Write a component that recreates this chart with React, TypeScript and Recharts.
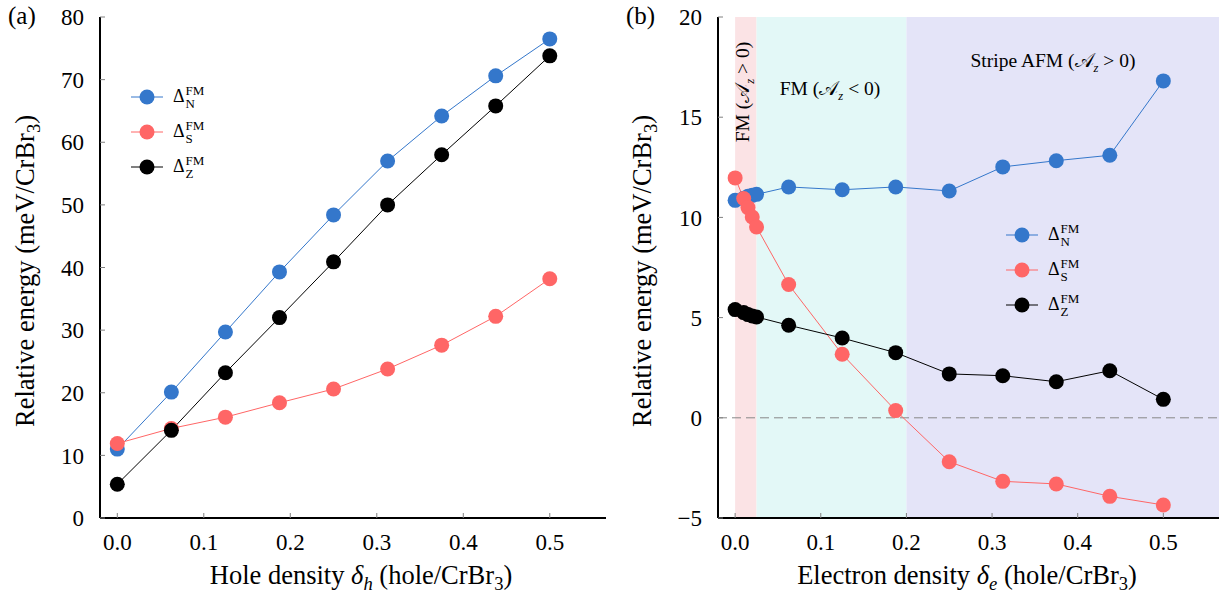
import React from 'react';
import { LineChart, Line, XAxis, YAxis, Legend, ReferenceArea, ReferenceLine } from 'recharts';

// panel (a): hole doping
const holeX = [0, 0.0625, 0.125, 0.1875, 0.25, 0.3125, 0.375, 0.4375, 0.5];
const holeN = [11.0, 20.1, 29.7, 39.3, 48.4, 57.0, 64.2, 70.6, 76.5];
const holeS = [11.9, 14.3, 16.1, 18.4, 20.6, 23.8, 27.6, 32.2, 38.2];
const holeZ = [5.4, 14.0, 23.2, 32.0, 40.9, 50.0, 58.0, 65.8, 73.8];

// panel (b): electron doping
const elecX = [0, 0.01, 0.015, 0.02, 0.025, 0.0625, 0.125, 0.1875, 0.25, 0.3125, 0.375, 0.4375, 0.5];
const elecN = [10.85, 10.95, 11.05, 11.1, 11.15, 11.52, 11.38, 11.52, 11.32, 12.52, 12.83, 13.1, 16.81];
const elecS = [11.97, 10.94, 10.49, 10.02, 9.52, 6.65, 3.17, 0.36, -2.19, -3.17, -3.3, -3.92, -4.35];
const elecZ = [5.4, 5.25, 5.15, 5.08, 5.03, 4.62, 3.98, 3.25, 2.19, 2.1, 1.8, 2.35, 0.92];

const xTicks = [0, 0.1, 0.2, 0.3, 0.4, 0.5];
const holeYTicks = [0, 10, 20, 30, 40, 50, 60, 70, 80];
const elecYTicks = [-5, 0, 5, 10, 15, 20];

// phase regions in panel (b)
const regions = [
  { from: 0, to: 0.025, color: '#fbe3e5' },
  { from: 0.025, to: 0.2, color: '#e3f8f7' },
  { from: 0.2, to: 0.565, color: '#e4e4f8' },
];

const BLUE = '#3477cb';
const RED = '#ff6666';
const BLACK = '#000000';
const FONT = '"Liberation Serif", "DejaVu Serif", serif';
const X_DOMAIN: [number, number] = [-0.02, 0.565];

const holeRows = holeX.map((x, i) => ({ x, N: holeN[i], S: holeS[i], Z: holeZ[i] }));
const elecRows = elecX.map((x, i) => ({ x, N: elecN[i], S: elecS[i], Z: elecZ[i] }));

const tickStyle = { fontFamily: FONT, fontSize: 23, fill: '#000' };
const tickLineStyle = { stroke: '#808080' };
const frame = { stroke: '#000', strokeWidth: 2 };

const LegendBox = ({ payload }: any) => (
  <div style={{ display: 'flex', flexDirection: 'column', fontFamily: FONT }}>
    {(payload || []).map((p: any) => (
      <div key={p.value} style={{ height: 35, display: 'flex', alignItems: 'center' }}>
        <svg width={32} height={20}>
          <line x1={0} y1={10} x2={32} y2={10} stroke={p.color} strokeWidth={1} />
          <circle cx={16} cy={10} r={7.5} fill={p.color} />
        </svg>
        <span style={{ marginLeft: 10, fontSize: 18, display: 'inline-flex', alignItems: 'center' }}>
          Δ
          <span style={{ display: 'inline-flex', flexDirection: 'column', fontSize: 13, lineHeight: '13px', marginLeft: 1 }}>
            <span>FM</span>
            <span>{p.value}</span>
          </span>
        </span>
      </div>
    ))}
  </div>
);

const fmtX = (v: number) => v.toFixed(1);
const fmtY = (v: number) => (v < 0 ? `\u2212${Math.abs(v)}` : `${v}`);

const Panel = ({ rows, yTicks, yDomain, yWidth, margin, legendPos, children }: any) => (
  <LineChart width={612} height={600} data={rows} margin={margin}>
    {children}
    <XAxis
      dataKey="x"
      type="number"
      domain={X_DOMAIN}
      ticks={xTicks}
      allowDataOverflow
      tickFormatter={fmtX}
      tick={tickStyle}
      tickSize={-5}
      tickMargin={21}
      tickLine={tickLineStyle}
      axisLine={frame}
      height={82}
    />
    <XAxis
      xAxisId="top"
      orientation="top"
      dataKey="x"
      type="number"
      domain={X_DOMAIN}
      ticks={xTicks}
      allowDataOverflow
      tick={false}
      tickSize={-5}
      tickLine={tickLineStyle}
      axisLine={frame}
      height={0}
    />
    <YAxis
      type="number"
      domain={yDomain}
      ticks={yTicks}
      allowDataOverflow
      tickFormatter={fmtY}
      tick={tickStyle}
      tickSize={-5}
      tickMargin={21}
      tickLine={tickLineStyle}
      axisLine={frame}
      width={yWidth}
    />
    <YAxis
      yAxisId="right"
      orientation="right"
      type="number"
      domain={yDomain}
      ticks={yTicks}
      allowDataOverflow
      tick={false}
      tickSize={-5}
      tickLine={tickLineStyle}
      axisLine={frame}
      width={0}
    />
    <Line dataKey="N" name="N" stroke={BLUE} strokeWidth={1} dot={{ r: 7.5, fill: BLUE, stroke: 'none' }} activeDot={false} isAnimationActive={false} />
    <Line dataKey="S" name="S" stroke={RED} strokeWidth={1} dot={{ r: 7.5, fill: RED, stroke: 'none' }} activeDot={false} isAnimationActive={false} />
    <Line dataKey="Z" name="Z" stroke={BLACK} strokeWidth={1} dot={{ r: 7.5, fill: BLACK, stroke: 'none' }} activeDot={false} isAnimationActive={false} />
    <Legend
      layout="vertical"
      align="center"
      verticalAlign="middle"
      content={<LegendBox />}
      wrapperStyle={{ left: legendPos.left, top: legendPos.top, width: 'auto', height: 'auto' }}
    />
  </LineChart>
);

const abs = (style: React.CSSProperties): React.CSSProperties => ({
  position: 'absolute',
  fontFamily: FONT,
  color: '#000',
  whiteSpace: 'nowrap',
  lineHeight: 1,
  ...style,
});

const Az = () => (
  <span>
    𝒜<sub style={{ fontSize: '0.65em', fontStyle: 'italic' }}>z</sub>
  </span>
);

const sub = { fontSize: '0.7em' };

export default function App() {
  return (
    <div style={{ position: 'relative', width: 1224, height: 600, background: '#fff' }}>
      <style>{'body{margin:0}'}</style>
      <div style={{ position: 'absolute', left: 0, top: 0 }}>
        <Panel
          rows={holeRows}
          yTicks={holeYTicks}
          yDomain={[0, 80]}
          yWidth={100}
          margin={{ top: 17, right: 6, bottom: 0, left: 0 }}
          legendPos={{ left: 131, top: 79 }}
        />
      </div>
      <div style={{ position: 'absolute', left: 612, top: 0 }}>
        <Panel
          rows={elecRows}
          yTicks={elecYTicks}
          yDomain={[-5, 20]}
          yWidth={106}
          margin={{ top: 17, right: 5, bottom: 0, left: 0 }}
          legendPos={{ left: 394, top: 217 }}
        >
          {regions.map((r) => (
            <ReferenceArea key={r.from} x1={r.from} x2={r.to} y1={-5} y2={20} fill={r.color} fillOpacity={1} stroke="none" ifOverflow="hidden" />
          ))}
          <ReferenceLine y={0} stroke="#888" strokeDasharray="9 5" strokeWidth={1} />
        </Panel>
      </div>

      {/* panel labels */}
      <div style={abs({ left: 8, top: 3, fontSize: 25 })}>(a)</div>
      <div style={abs({ left: 626, top: 3, fontSize: 25 })}>(b)</div>

      {/* axis titles */}
      <div style={abs({ left: 28, top: 271, fontSize: 26.5, transform: 'translate(-50%, -50%) rotate(-90deg)' })}>
        Relative energy (meV/CrBr<sub style={sub}>3</sub>)
      </div>
      <div style={abs({ left: 645, top: 271, fontSize: 26.5, transform: 'translate(-50%, -50%) rotate(-90deg)' })}>
        Relative energy (meV/CrBr<sub style={sub}>3</sub>)
      </div>
      <div style={abs({ left: 361, top: 578, fontSize: 26.5, transform: 'translate(-50%, -50%)' })}>
        Hole density <i>δ</i><sub style={{ ...sub, fontStyle: 'italic' }}>h</sub> (hole/CrBr<sub style={sub}>3</sub>)
      </div>
      <div style={abs({ left: 967, top: 578, fontSize: 26.5, transform: 'translate(-50%, -50%)' })}>
        Electron density <i>δ</i><sub style={{ ...sub, fontStyle: 'italic' }}>e</sub> (hole/CrBr<sub style={sub}>3</sub>)
      </div>

      {/* phase annotations */}
      <div style={abs({ left: 1053, top: 63, fontSize: 19.5, transform: 'translate(-50%, -50%)' })}>
        Stripe AFM (<Az /> &gt; 0)
      </div>
      <div style={abs({ left: 830, top: 91, fontSize: 19.5, transform: 'translate(-50%, -50%)' })}>
        FM (<Az /> &lt; 0)
      </div>
      <div style={abs({ left: 745, top: 92, fontSize: 19.5, transform: 'translate(-50%, -50%) rotate(-90deg)' })}>
        FM (<Az /> &gt; 0)
      </div>
    </div>
  );
}
